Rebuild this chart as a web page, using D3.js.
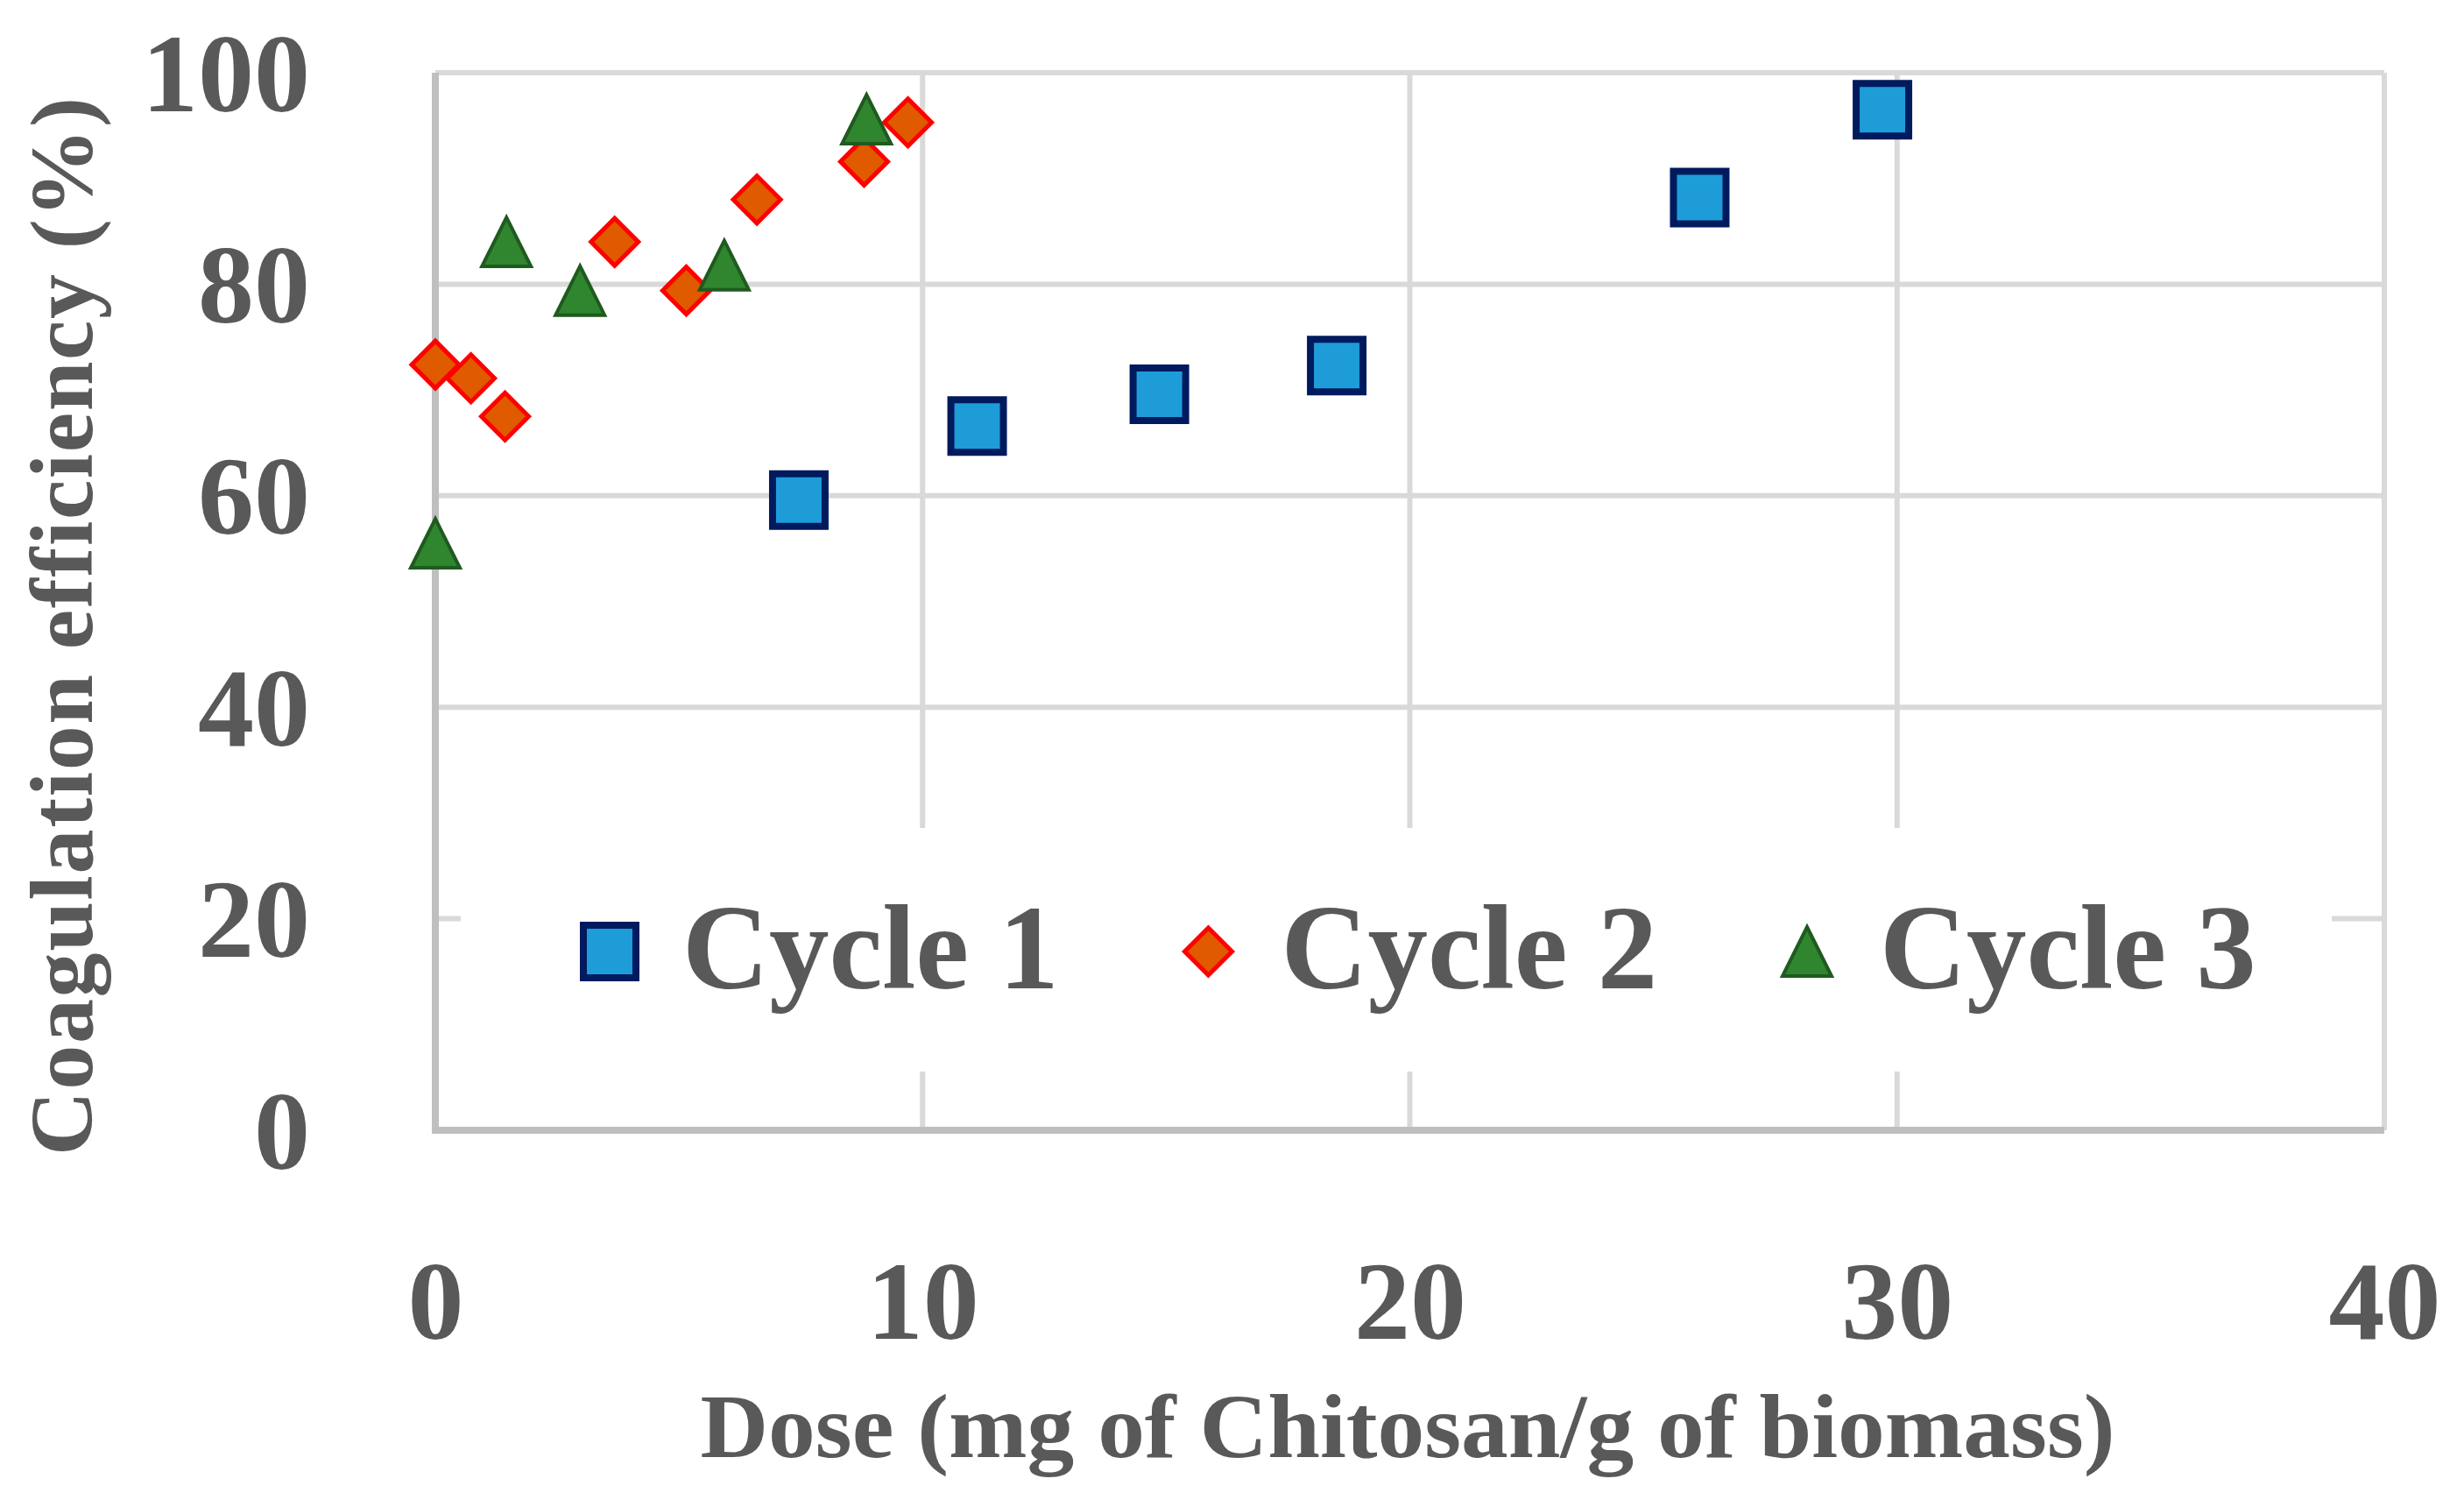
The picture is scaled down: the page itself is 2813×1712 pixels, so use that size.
<!DOCTYPE html>
<html>
<head>
<meta charset="utf-8">
<script src="https://cdnjs.cloudflare.com/ajax/libs/d3/7.8.5/d3.min.js"></script>
<style>
  body { margin: 0; background: #fff; }
</style>
</head>
<body>
<div id="chart"></div>
<script>
// data
const cycle1 = [
  {x: 7.46, y: 59.6}, {x: 11.12, y: 66.6}, {x: 14.86, y: 69.6},
  {x: 18.5, y: 72.3}, {x: 25.95, y: 88.2}, {x: 29.7, y: 96.5}
];
const cycle2 = [
  {x: 0, y: 72.4}, {x: 0.73, y: 71.1}, {x: 1.43, y: 67.5}, {x: 3.68, y: 84.0},
  {x: 5.15, y: 79.4}, {x: 6.6, y: 88.0}, {x: 8.8, y: 91.6}, {x: 9.7, y: 95.3}
];
const cycle3 = [
  {x: 0, y: 55.5}, {x: 1.46, y: 84.0}, {x: 2.97, y: 79.4},
  {x: 5.93, y: 81.8}, {x: 8.85, y: 95.6}
];
const seriesNames = ["Cycle 1", "Cycle 2", "Cycle 3"];
const xTicks = [0, 10, 20, 30, 40];
const yTicks = [0, 20, 40, 60, 80, 100];

const width = 2813;
const height = 1712;
const margin = ({top: 83, right: 91, bottom: 422, left: 497});
const textColor = "#595959";
const font = "'Liberation Serif', 'Times New Roman', serif";

// custom marker shapes, size = side length
const squareShape = {draw(ctx, s) { const h = s / 2; ctx.moveTo(-h, -h); ctx.lineTo(h, -h); ctx.lineTo(h, h); ctx.lineTo(-h, h); ctx.closePath(); }};
const diamondShape = {draw(ctx, s) { const h = s / 2; ctx.moveTo(0, -h); ctx.lineTo(h, 0); ctx.lineTo(0, h); ctx.lineTo(-h, 0); ctx.closePath(); }};
const triangleShape = {draw(ctx, s) { const h = s / 2; ctx.moveTo(0, -h); ctx.lineTo(h, h); ctx.lineTo(-h, h); ctx.closePath(); }};

const series = [
  {name: seriesNames[0], data: cycle1, shape: squareShape, size: 60, fill: "#1e9cd8", stroke: "#001a5e", sw: 8},
  {name: seriesNames[1], data: cycle2, shape: diamondShape, size: 54, fill: "#e05a00", stroke: "#ff0000", sw: 5},
  {name: seriesNames[2], data: cycle3, shape: triangleShape, size: 56, fill: "#2f862f", stroke: "#1f5a1f", sw: 4}
];

const svg = d3.create('svg')
  .attr('width', width)
  .attr('height', height)
  .style('background', '#fff');

const xScale = d3.scaleLinear()
  .domain([0, 40])
  .range([margin.left, width - margin.right]);

const yScale = d3.scaleLinear()
  .domain([0, 100])
  .range([height - margin.bottom, margin.top]);

// gridlines
const grid = svg.append('g').attr('stroke', '#d9d9d9').attr('stroke-width', 6);
grid.selectAll('line.h')
  .data(yTicks.filter(d => d > 0))
  .join('line')
  .attr('class', 'h')
  .attr('x1', xScale(0)).attr('x2', xScale(40))
  .attr('y1', d => yScale(d)).attr('y2', d => yScale(d));
grid.selectAll('line.v')
  .data(xTicks.filter(d => d > 0))
  .join('line')
  .attr('class', 'v')
  .attr('y1', yScale(0)).attr('y2', yScale(100))
  .attr('x1', d => xScale(d)).attr('x2', d => xScale(d));

// legend background hides the grid behind it
svg.append('rect')
  .attr('x', 526).attr('y', 945)
  .attr('width', 2136).attr('height', 278)
  .attr('fill', '#fff');

// axis lines
svg.append('line')
  .attr('x1', xScale(0)).attr('x2', xScale(0))
  .attr('y1', yScale(0) + 4).attr('y2', yScale(100))
  .attr('stroke', '#bfbfbf').attr('stroke-width', 8);
svg.append('line')
  .attr('x1', xScale(0) - 4).attr('x2', xScale(40))
  .attr('y1', yScale(0)).attr('y2', yScale(0))
  .attr('stroke', '#bfbfbf').attr('stroke-width', 8);

// tick labels
const xAxis = svg.append('g')
  .attr('transform', `translate(0, ${yScale(0)})`)
  .call(d3.axisBottom(xScale).tickValues(xTicks).tickSize(0).tickPadding(0));
xAxis.select('.domain').remove();
xAxis.selectAll('text')
  .attr('dy', null)
  .attr('y', 238)
  .attr('fill', textColor)
  .attr('font-family', font)
  .attr('font-weight', 'bold')
  .attr('font-size', 128);

const yAxis = svg.append('g')
  .attr('transform', `translate(${xScale(0)}, 0)`)
  .call(d3.axisLeft(yScale).tickValues(yTicks).tickSize(0).tickPadding(0));
yAxis.select('.domain').remove();
yAxis.selectAll('text')
  .attr('dy', null)
  .attr('x', -143)
  .attr('y', 43)
  .attr('fill', textColor)
  .attr('font-family', font)
  .attr('font-weight', 'bold')
  .attr('font-size', 128);

// axis titles
svg.append('text')
  .attr('x', 1607).attr('y', 1663)
  .attr('text-anchor', 'middle')
  .attr('fill', textColor)
  .attr('font-family', font)
  .attr('font-weight', 'bold')
  .attr('font-size', 104)
  .attr('textLength', 1615)
  .attr('lengthAdjust', 'spacingAndGlyphs')
  .text('Dose (mg of Chitosan/g of biomass)');

svg.append('text')
  .attr('transform', 'translate(105, 715) rotate(-90)')
  .attr('text-anchor', 'middle')
  .attr('fill', textColor)
  .attr('font-family', font)
  .attr('font-weight', 'bold')
  .attr('font-size', 102)
  .attr('textLength', 1208)
  .attr('lengthAdjust', 'spacing')
  .text('Coagulation efficiency (%)');

// points
series.forEach(s => {
  svg.append('g')
    .selectAll('path')
    .data(s.data)
    .join('path')
    .attr('transform', d => `translate(${xScale(d.x)}, ${yScale(d.y)})`)
    .attr('d', d3.symbol().type(s.shape).size(s.size))
    .attr('fill', s.fill)
    .attr('stroke', s.stroke)
    .attr('stroke-width', s.sw);
});

// legend
const legend = svg.append('g')
  .selectAll('g')
  .data(series)
  .join('g')
  .attr('transform', (d, i) => `translate(${696 + i * 683.5}, 1086)`);
legend.append('path')
  .attr('d', d => d3.symbol().type(d.shape).size(d.size)())
  .attr('fill', d => d.fill)
  .attr('stroke', d => d.stroke)
  .attr('stroke-width', d => d.sw);
legend.append('text')
  .attr('x', 83).attr('y', 42)
  .attr('fill', textColor)
  .attr('font-family', font)
  .attr('font-weight', 'bold')
  .attr('font-size', 137)
  .text(d => d.name);

document.getElementById("chart").appendChild(svg.node());
</script>
</body>
</html>
